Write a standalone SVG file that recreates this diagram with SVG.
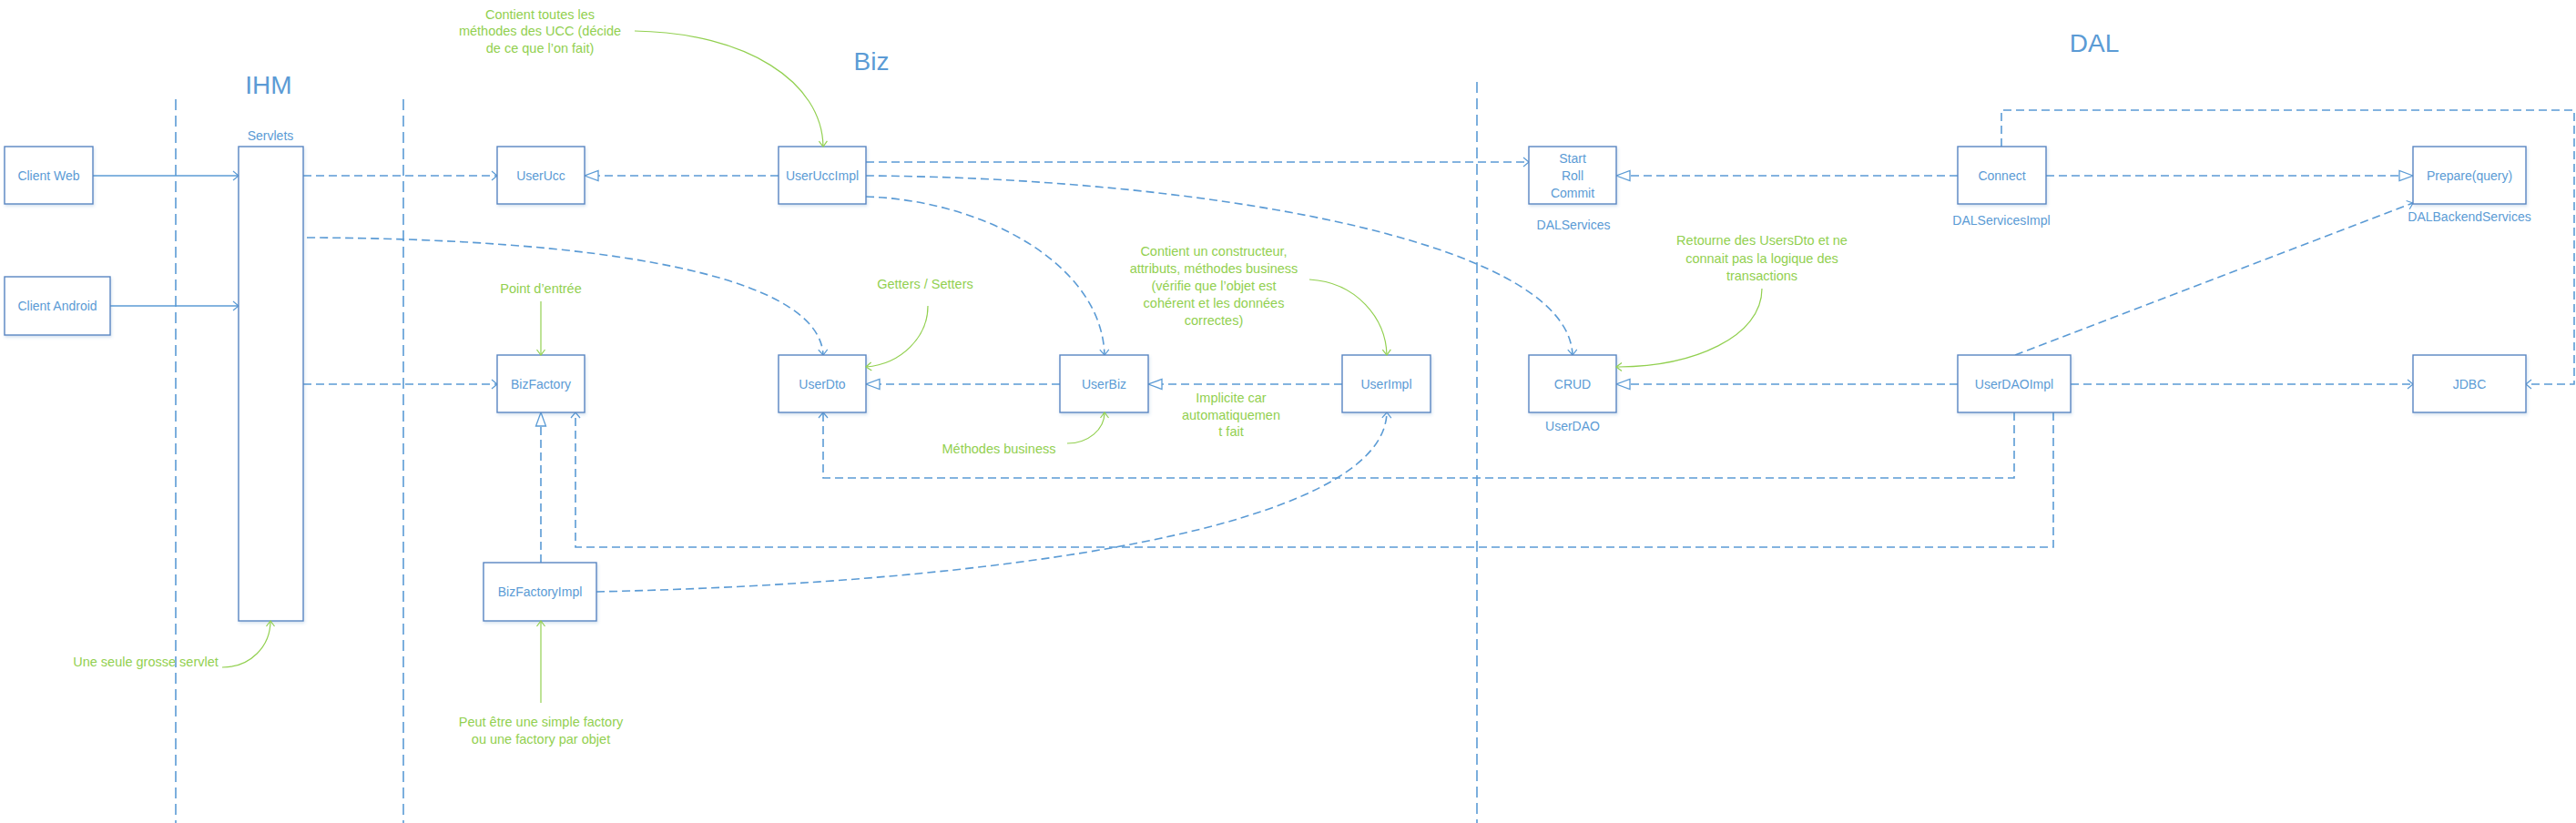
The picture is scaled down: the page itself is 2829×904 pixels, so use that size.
<svg xmlns="http://www.w3.org/2000/svg" width="2829" height="904" viewBox="0 0 2829 904">
<style>
.box{fill:#ffffff;stroke:#5a86c2;stroke-width:1.4;filter:url(#sh)}
.lbl{font-family:"Liberation Sans",Arial,sans-serif;font-size:14px;fill:#5b9bd5;text-anchor:middle}
.ttl{font-family:"Liberation Sans",Arial,sans-serif;font-size:28px;fill:#5b9bd5;text-anchor:middle}
.note{font-family:"Liberation Sans",Arial,sans-serif;font-size:14.5px;fill:#92d050;text-anchor:middle}
.div{fill:none;stroke:#5b9bd5;stroke-width:1.6;stroke-dasharray:12 6}
.dash{fill:none;stroke:#5b9bd5;stroke-width:1.6;stroke-dasharray:9 5}
.solid{fill:none;stroke:#5b9bd5;stroke-width:1.4}
.green{fill:none;stroke:#92d050;stroke-width:1.2}
.dep{marker-end:url(#v)}
.real{marker-end:url(#tri)}
.gar{marker-end:url(#gv)}
</style>
<defs>
<filter id="sh" x="-10%" y="-10%" width="130%" height="130%">
<feDropShadow dx="1" dy="2" stdDeviation="1.5" flood-color="#4a7ebb" flood-opacity="0.22"/>
</filter>
<marker id="v" markerUnits="userSpaceOnUse" markerWidth="14" markerHeight="14" viewBox="-8 -7 10 14" refX="0" refY="0" orient="auto">
<path d="M -6 -5 L 0 0 L -6 5" fill="none" stroke="#5b9bd5" stroke-width="1.2"/>
</marker>
<marker id="tri" markerUnits="userSpaceOnUse" markerWidth="18" markerHeight="14" viewBox="-16 -7 18 14" refX="0" refY="0" orient="auto">
<path d="M 0 0 L -15 -5.5 L -15 5.5 Z" fill="#ffffff" stroke="#5b9bd5" stroke-width="1.3"/>
</marker>
<marker id="gv" markerUnits="userSpaceOnUse" markerWidth="14" markerHeight="14" viewBox="-8 -7 10 14" refX="0" refY="0" orient="auto">
<path d="M -6 -4.5 L 0 0 L -6 4.5" fill="none" stroke="#92d050" stroke-width="1.2"/>
</marker>
</defs>
<rect width="2829" height="904" fill="#ffffff"/>

<g id="layers">
<line class="div" x1="193" y1="109" x2="193" y2="904"/>
<line class="div" x1="443" y1="109" x2="443" y2="904"/>
<line class="div" x1="1622" y1="90" x2="1622" y2="904"/>
<text class="ttl" x="295" y="103">IHM</text>
<text class="ttl" x="957" y="77">Biz</text>
<text class="ttl" x="2300" y="57">DAL</text>
</g>

<g id="connectors">
<line class="solid dep" x1="102" y1="193" x2="262" y2="193"/>
<line class="solid dep" x1="121" y1="336" x2="262" y2="336"/>
<line class="dash dep" x1="333" y1="193" x2="546" y2="193"/>
<line class="dash dep" x1="333" y1="422" x2="546" y2="422"/>
<path class="dash dep" d="M 337 261 C 650 262, 900 300, 904 390"/>
<line class="dash real" x1="855" y1="193" x2="642" y2="193"/>
<line class="dash dep" x1="951" y1="178" x2="1679" y2="178"/>
<path class="dash dep" d="M 951 216 C 1080 220, 1210 290, 1213 390"/>
<path class="dash dep" d="M 951 193 C 1300 195, 1722 260, 1727 390"/>
<line class="dash real" x1="1164" y1="422" x2="951" y2="422"/>
<line class="dash real" x1="1474" y1="422" x2="1261" y2="422"/>
<line class="dash real" x1="594" y1="618" x2="594" y2="453"/>
<path class="dash dep" d="M 655 650 C 1100 640, 1520 580, 1523 453"/>
<line class="dash real" x1="2150" y1="193" x2="1775" y2="193"/>
<line class="dash real" x1="2247" y1="193" x2="2650" y2="193"/>
<path class="dash dep" d="M 2198 161 V 121 H 2827 V 422 H 2774"/>
<line class="dash real" x1="2150" y1="422" x2="1775" y2="422"/>
<line class="dash dep" x1="2274" y1="422" x2="2650" y2="422"/>
<line class="dash dep" x1="2213" y1="390" x2="2650" y2="223"/>
<path class="dash dep" d="M 2212 453 V 525 H 904 V 453"/>
<path class="dash dep" d="M 2255 453 V 601 H 632 V 453"/>
</g>

<g id="clientWeb"><rect class="box" x="5" y="161" width="97" height="63"/><text class="lbl" x="53.5" y="198">Client Web</text></g>
<g id="clientAndroid"><rect class="box" x="5" y="304" width="116" height="64"/><text class="lbl" x="63" y="341">Client Android</text></g>
<g id="servlets"><rect class="box" x="262" y="161" width="71" height="521"/><text class="lbl" x="297" y="154">Servlets</text></g>
<g id="userUcc"><rect class="box" x="546" y="161" width="96" height="63"/><text class="lbl" x="594" y="198">UserUcc</text></g>
<g id="userUccImpl"><rect class="box" x="855" y="161" width="96" height="63"/><text class="lbl" x="903" y="198">UserUccImpl</text></g>
<g id="bizFactory"><rect class="box" x="546" y="390" width="96" height="63"/><text class="lbl" x="594" y="427">BizFactory</text></g>
<g id="bizFactoryImpl"><rect class="box" x="531" y="618" width="124" height="64"/><text class="lbl" x="593" y="655">BizFactoryImpl</text></g>
<g id="userDto"><rect class="box" x="855" y="390" width="96" height="63"/><text class="lbl" x="903" y="427">UserDto</text></g>
<g id="userBiz"><rect class="box" x="1164" y="390" width="97" height="63"/><text class="lbl" x="1212.5" y="427">UserBiz</text></g>
<g id="userImpl"><rect class="box" x="1474" y="390" width="97" height="63"/><text class="lbl" x="1522.5" y="427">UserImpl</text></g>
<g id="dalServices"><rect class="box" x="1679" y="161" width="96" height="63"/><text class="lbl" x="1727" y="179">Start</text><text class="lbl" x="1727" y="198">Roll</text><text class="lbl" x="1727" y="217">Commit</text><text class="lbl" x="1728" y="252">DALServices</text></g>
<g id="crud"><rect class="box" x="1679" y="390" width="96" height="63"/><text class="lbl" x="1727" y="427">CRUD</text><text class="lbl" x="1727" y="473">UserDAO</text></g>
<g id="connect"><rect class="box" x="2150" y="161" width="97" height="63"/><text class="lbl" x="2198.5" y="198">Connect</text><text class="lbl" x="2198" y="247">DALServicesImpl</text></g>
<g id="userDaoImpl"><rect class="box" x="2150" y="390" width="124" height="63"/><text class="lbl" x="2212" y="427">UserDAOImpl</text></g>
<g id="prepare"><rect class="box" x="2650" y="161" width="124" height="63"/><text class="lbl" x="2712" y="198">Prepare(query)</text><text class="lbl" x="2712" y="243">DALBackendServices</text></g>
<g id="jdbc"><rect class="box" x="2650" y="390" width="124" height="63"/><text class="lbl" x="2712" y="427">JDBC</text></g>

<g id="notes">
<text class="note" x="593" y="21">Contient toutes les</text>
<text class="note" x="593" y="39">méthodes des UCC (décide</text>
<text class="note" x="593" y="58">de ce que l’on fait)</text>
<path class="green gar" d="M 697 34 C 820 36, 903 90, 904 161"/>
<text class="note" x="594" y="322">Point d’entrée</text>
<line class="green gar" x1="594" y1="331" x2="594" y2="390"/>
<text class="note" x="1016" y="317">Getters / Setters</text>
<path class="green gar" d="M 1019 336 C 1019 370, 990 400, 951 403"/>
<text class="note" x="1333" y="281">Contient un constructeur,</text>
<text class="note" x="1333" y="300">attributs, méthodes business</text>
<text class="note" x="1333" y="319">(vérifie que l’objet est</text>
<text class="note" x="1333" y="338">cohérent et les données</text>
<text class="note" x="1333" y="357">correctes)</text>
<path class="green gar" d="M 1438 307 C 1490 310, 1522 350, 1523 390"/>
<text class="note" x="1097" y="498">Méthodes business</text>
<path class="green gar" d="M 1172 487 C 1195 487, 1213 472, 1213 453"/>
<text class="note" x="1352" y="442">Implicite car</text>
<text class="note" x="1352" y="461">automatiquemen</text>
<text class="note" x="1352" y="479">t fait</text>
<text class="note" x="1935" y="269">Retourne des UsersDto et ne</text>
<text class="note" x="1935" y="289">connait pas la logique des</text>
<text class="note" x="1935" y="308">transactions</text>
<path class="green gar" d="M 1935 317 C 1935 370, 1860 403, 1775 403"/>
<text class="note" x="160" y="732">Une seule grosse servlet</text>
<path class="green gar" d="M 244 733 C 275 733, 297 710, 297 682"/>
<text class="note" x="594" y="798">Peut être une simple factory</text>
<text class="note" x="594" y="817">ou une factory par objet</text>
<line class="green gar" x1="594" y1="772" x2="594" y2="682"/>
</g>
</svg>
